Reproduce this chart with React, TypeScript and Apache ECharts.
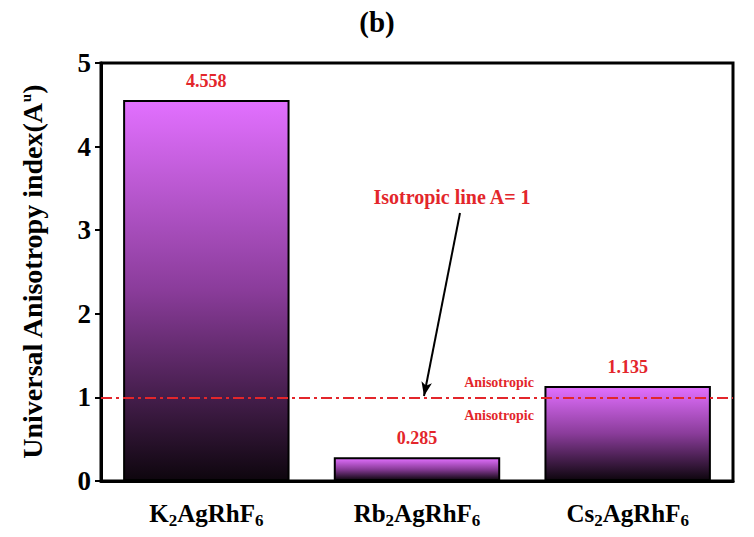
import React, { useEffect, useRef } from "react";
import * as echarts from "echarts";

const categories = ["K2AgRhF6", "Rb2AgRhF6", "Cs2AgRhF6"];
const categoryLabels = [
  "{b|K}{s|2}{b|AgRhF}{s|6}",
  "{b|Rb}{s|2}{b|AgRhF}{s|6}",
  "{b|Cs}{s|2}{b|AgRhF}{s|6}",
];
const anisotropyValues = [4.558, 0.285, 1.135];
const isotropicValue = 1;
const yTicks = [0, 1, 2, 3, 4, 5];

const FONT = "'Liberation Serif', 'Times New Roman', serif";
const RED = "#e3262b";

export default function App() {
  const ref = useRef<HTMLDivElement>(null);
  useEffect(() => {
    const chart = echarts.init(ref.current!, null, { renderer: "svg" });
    chart.setOption({
      animation: false,
      backgroundColor: "#ffffff",
      title: {
        text: "(b)",
        left: "center",
        top: 2,
        textStyle: { fontFamily: FONT, fontWeight: "bold", fontSize: 29, color: "#000" },
      },
      grid: {
        left: 101,
        right: 21,
        top: 63,
        bottom: 56,
        show: true,
        borderColor: "#000",
        borderWidth: 3,
      },
      xAxis: {
        type: "category",
        data: categories,
        axisLine: { lineStyle: { color: "#000", width: 3 } },
        axisTick: { show: false },
        axisLabel: {
          margin: 17,
          formatter: (_v: string, i: number) => categoryLabels[i],
          rich: {
            b: { fontFamily: FONT, fontWeight: "bold", fontSize: 25, color: "#000" },
            s: {
              fontFamily: FONT,
              fontWeight: "bold",
              fontSize: 17,
              color: "#000",
              verticalAlign: "bottom",
              padding: [14, 0, 0, 0],
            },
          },
        },
      },
      yAxis: {
        type: "value",
        min: yTicks[0],
        max: yTicks[yTicks.length - 1],
        interval: 1,
        splitLine: { show: false },
        axisLine: { show: true, lineStyle: { color: "#000", width: 3 } },
        axisTick: { show: true, length: 6, lineStyle: { color: "#000", width: 2 } },
        axisLabel: {
          fontFamily: FONT,
          fontWeight: "bold",
          fontSize: 27,
          color: "#000",
          margin: 10,
        },
        name: "{n|Universal Anisotropy index(A}{u|u}{n|)}",
        nameLocation: "middle",
        nameGap: 55,
        nameTextStyle: {
          rich: {
            n: { fontFamily: FONT, fontWeight: "bold", fontSize: 28, color: "#000" },
            u: {
              fontFamily: FONT,
              fontWeight: "bold",
              fontSize: 15,
              color: "#000",
              verticalAlign: "top",
              padding: [0, 0, 13, 0],
            },
          },
        },
      },
      series: [
        {
          type: "bar",
          data: anisotropyValues,
          barWidth: "79%",
          itemStyle: {
            borderColor: "#000",
            borderWidth: 2,
            color: new echarts.graphic.LinearGradient(0, 0, 0, 1, [
              { offset: 0, color: "#e270ff" },
              { offset: 0.5, color: "#8a3c9a" },
              { offset: 1, color: "#0e060e" },
            ]),
          },
          label: {
            show: true,
            position: "top",
            distance: 10,
            formatter: (p: any) => p.value.toFixed(3),
            fontFamily: FONT,
            fontWeight: "bold",
            fontSize: 18,
            color: RED,
          },
          markLine: {
            silent: true,
            symbol: ["none", "none"],
            z: 10,
            label: { show: false },
            lineStyle: { color: RED, width: 2, type: [11, 4, 3, 4] },
            data: [{ yAxis: isotropicValue }],
          },
          z: 2,
        },
        {
          type: "line",
          data: [],
          markLine: {
            silent: true,
            symbol: ["none", "arrow"],
            symbolSize: [8, 14],
            label: { show: false },
            lineStyle: { color: "#000", width: 2, type: "solid" },
            data: [[{ x: 460, y: 213 }, { x: 424, y: 396 }]],
          },
        },
      ],
      graphic: [
        {
          type: "text",
          x: 452,
          y: 197,
          style: {
            text: "Isotropic line A= 1",
            fontFamily: FONT,
            fontWeight: "bold",
            fontSize: 20,
            fill: RED,
            align: "center",
            verticalAlign: "middle",
          },
        },
        {
          type: "text",
          x: 499,
          y: 382,
          style: {
            text: "Anisotropic",
            fontFamily: FONT,
            fontWeight: "bold",
            fontSize: 14,
            fill: RED,
            align: "center",
            verticalAlign: "middle",
          },
        },
        {
          type: "text",
          x: 499,
          y: 415,
          style: {
            text: "Anisotropic",
            fontFamily: FONT,
            fontWeight: "bold",
            fontSize: 14,
            fill: RED,
            align: "center",
            verticalAlign: "middle",
          },
        },
      ],
    });
    return () => chart.dispose();
  }, []);
  return <div ref={ref} style={{ width: 754, height: 537, margin: -8 }} />;
}
